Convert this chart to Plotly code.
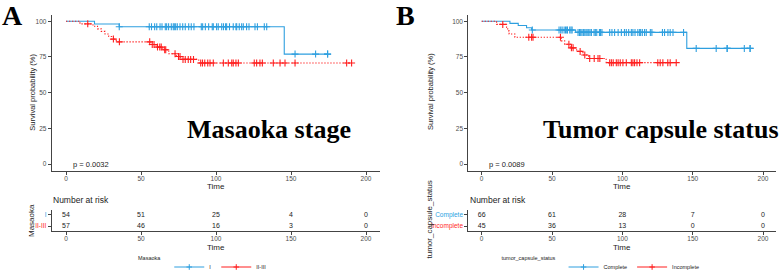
import numpy as np
import plotly.graph_objects as go

BLUE = "#2E9FDF"
RED = "#FF1F1F"
AXC = "#444444"
TICKC = "#4d4d4d"
SANS = "Liberation Sans, Arial, sans-serif"
SERIF = "Liberation Serif, Times New Roman, serif"

# ---------------- Data: panel A (Masaoka stage) ----------------
groups_A = ["I", "II-III"]
A_I_step_t = [0, 19, 35.5, 145.5]
A_I_step_s = [100, 98.1, 96.2, 77.0]
A_I_end = 174.4
A_I_censor = [35.5, 55.5, 57.0, 59.1, 60.5, 62.7, 64.0, 66.2, 67.1, 68.4, 70.2, 71.5, 72.2,
              73.1, 74.2, 76.0, 77.8, 79.5, 81.8, 83.5, 85.3, 90.2, 91.1, 92.9, 95.1, 97.5,
              98.2, 100.4, 101.5, 103.8, 105.0, 106.4, 107.1, 109.0, 111.5, 113.3, 113.8,
              115.5, 117.1, 118.2, 120.4, 122.0, 126.0, 127.6, 132.2, 133.8, 152.7, 166.4,
              174.4, 174.4]

A_II_step_t = [0, 9.3, 18, 21, 23.5, 26, 28.5, 30.5, 33.5, 56.5, 60, 64.5, 68.5, 73.5, 76.5, 88.5]
A_II_step_s = [100, 98.2, 96.5, 94.7, 92.9, 91.1, 89.3, 87.5, 85.6, 83.7, 81.9, 80.1, 77.2,
               75.3, 73.3, 70.8]
A_II_end = 190.4
A_II_censor = [14.5, 31.6, 35.6, 55.8, 57.5, 58.7, 61, 62.5, 63.5, 65.8, 66.5, 72.7, 75, 76,
               78, 79.5, 81.5, 83.1, 85, 89.8, 91, 92.5, 94.5, 96, 98.2, 104.9, 108.2, 110.5,
               111.5, 113.3, 114.9, 125.5, 127.1, 129.3, 130.9, 138.2, 142.7, 146, 152.7,
               187.1, 190.4]

risk_times = [0, 50, 100, 150, 200]
A_I_risk = [54, 51, 25, 4, 0]
A_II_risk = [57, 46, 16, 3, 0]
A_pval = "p = 0.0032"

# ---------------- Data: panel B (Tumor capsule status) ----------------
groups_B = ["Complete", "Incomplete"]
B_C_step_t = [0, 20.1, 26, 31.9, 35.5, 66.8, 145.8]
B_C_step_s = [100, 98.5, 97.0, 95.5, 93.9, 92.2, 81.0]
B_C_end = 190.8
B_C_censor = [36, 55, 56.2, 57.2, 58.6, 59.6, 60.5, 61, 62.6, 63.5, 64.3, 68.5, 69.5, 70.4,
              71.3, 72.3, 73.3, 74.2, 75, 76.1, 77, 78, 79.9, 80.8, 81.8, 83.7, 84.5, 85.5,
              91, 92.6, 94.5, 97, 99.3, 101.5, 102.8, 104.5, 106.4, 107.5, 109, 111, 112.3,
              113, 114.2, 115.8, 117, 119.9, 121, 128.5, 130, 132.4, 134, 136, 143.5,
              152.5, 166.7, 174.5, 174.5, 186.7, 190.8, 190.8]

B_I_step_t = [0, 10.6, 17.7, 18.5, 19.5, 23.6, 56.5, 59, 63.5, 67.5, 72, 76, 88.5]
B_I_step_s = [100, 97.8, 95.6, 93.3, 91.1, 88.8, 86.3, 83.9, 81.4, 78.9, 76.4, 73.9, 71.0]
B_I_end = 138.3
B_I_censor = [15, 33.5, 35.5, 36.5, 56, 62, 63.8, 65, 70, 73.3, 76.8, 80, 82.7, 84, 91, 92.2,
              93.5, 95.7, 97, 98.5, 100.4, 102.8, 106.4, 107.5, 108.7, 110.4, 112.3, 125.2,
              126.9, 128.8, 132.3, 134, 138.3]

B_C_risk = [66, 61, 28, 7, 0]
B_I_risk = [45, 36, 13, 0, 0]
B_pval = "p = 0.0089"

x_ticks = [0, 50, 100, 150, 200]
y_ticks = [0, 25, 50, 75, 100]

W, H = 780, 272


def px_x(p):
    return p / W


def px_y(p):
    return 1 - p / H


def level_at(step_t, step_s, times):
    idx = np.searchsorted(np.array(step_t), np.array(times), side="right") - 1
    return list(np.array(step_s)[idx])


fig = go.Figure()


def add_group(step_t, step_s, end, censor, color, dash, xa, ya, name, legend):
    fig.add_trace(go.Scatter(
        x=list(step_t) + [end], y=list(step_s) + [step_s[-1]],
        mode="lines", line=dict(color=color, width=1.1, dash=dash, shape="hv"),
        xaxis=xa, yaxis=ya, showlegend=False, hoverinfo="skip"))
    fig.add_trace(go.Scatter(
        x=censor, y=level_at(step_t, step_s, censor), mode="markers",
        marker=dict(symbol="cross-thin", size=5, line=dict(width=1.1, color=color), color=color),
        xaxis=xa, yaxis=ya, showlegend=False, hoverinfo="skip"))
    # legend key
    fig.add_trace(go.Scatter(
        x=[None], y=[None], mode="lines+markers", name=name,
        line=dict(color=color, width=1, dash="solid"),
        marker=dict(symbol="cross-thin", size=4, line=dict(width=1, color=color), color=color),
        xaxis=xa, yaxis=ya, legend=legend, showlegend=True))


DOT = "1.3px,1.7px"
add_group(A_I_step_t, A_I_step_s, A_I_end, A_I_censor, BLUE, "solid", "x", "y", groups_A[0], "legend")
add_group(A_II_step_t, A_II_step_s, A_II_end, A_II_censor, RED, DOT, "x", "y", groups_A[1], "legend")
add_group(B_C_step_t, B_C_step_s, B_C_end, B_C_censor, BLUE, "solid", "x3", "y3", groups_B[0], "legend2")
add_group(B_I_step_t, B_I_step_s, B_I_end, B_I_censor, RED, DOT, "x3", "y3", groups_B[1], "legend2")


def add_risk(vals, row, xa, ya):
    fig.add_trace(go.Scatter(
        x=risk_times, y=[row] * len(risk_times), mode="text",
        text=[str(v) for v in vals], textposition="middle center",
        textfont=dict(size=7, color="#222222", family=SANS),
        xaxis=xa, yaxis=ya, showlegend=False, hoverinfo="skip"))


add_risk(A_I_risk, 2, "x2", "y2")
add_risk(A_II_risk, 1, "x2", "y2")
add_risk(B_C_risk, 2, "x4", "y4")
add_risk(B_I_risk, 1, "x4", "y4")

XR = [-9.5, 209.5]
YR = [-4.9, 104.4]
RR = [0.55, 2.45]
A_dom = [px_x(51.75), px_x(380.25)]
B_dom = [px_x(468.3), px_x(776.4)]
KM_dom = [px_y(171), px_y(15)]
RK_dom = [px_y(231), px_y(210)]

common = dict(showline=True, linecolor=AXC, linewidth=1, ticks="outside", ticklen=3,
              tickcolor=AXC, tickwidth=1, showgrid=False, zeroline=False,
              tickfont=dict(size=6.5, color=TICKC, family=SANS), fixedrange=True)


def xaxis(dom, anchor):
    return dict(domain=dom, range=XR, anchor=anchor, tickvals=x_ticks,
                ticklabelstandoff=-2, **common)


def yaxis_km(anchor):
    return dict(domain=KM_dom, range=YR, anchor=anchor, tickvals=y_ticks, **common)


def yaxis_rk(anchor, labels):
    txt = ["<span style='color:%s'>%s</span>" % (RED, labels[1]),
           "<span style='color:%s'>%s</span>" % (BLUE, labels[0])]
    c = dict(common)
    c["tickfont"] = dict(size=6.5, color=TICKC, family=SANS)
    return dict(domain=RK_dom, range=RR, anchor=anchor, tickvals=[1, 2], ticktext=txt, **c)


fig.update_layout(
    width=W, height=H, margin=dict(l=0, r=0, t=0, b=0, autoexpand=False),
    paper_bgcolor="white", plot_bgcolor="white",
    font=dict(family=SANS, color="#222222"),
    xaxis=xaxis(A_dom, "y"), yaxis=yaxis_km("x"),
    xaxis2=xaxis(A_dom, "y2"), yaxis2=yaxis_rk("x2", groups_A),
    xaxis3=xaxis(B_dom, "y3"), yaxis3=yaxis_km("x3"),
    xaxis4=xaxis(B_dom, "y4"), yaxis4=yaxis_rk("x4", groups_B),
    legend=dict(orientation="h", x=px_x(204), xanchor="center", y=px_y(267), yanchor="middle",
                font=dict(size=5.5, color="#222222", family=SANS),
                title=dict(text="Masaoka", side="left", font=dict(size=5.5)),
                itemwidth=30, bgcolor="rgba(0,0,0,0)"),
    legend2=dict(orientation="h", x=px_x(602), xanchor="center", y=px_y(267), yanchor="middle",
                 font=dict(size=5.5, color="#222222", family=SANS),
                 title=dict(text="tumor_capsule_status", side="left", font=dict(size=5.5)),
                 itemwidth=30, bgcolor="rgba(0,0,0,0)"),
    showlegend=True,
)

ann = []


def a(**kw):
    base = dict(showarrow=False, xref="paper", yref="paper")
    base.update(kw)
    ann.append(base)


# panel letters
a(text="<b>A</b>", x=px_x(0), y=px_y(15), xanchor="left", yanchor="middle",
  font=dict(family=SERIF, size=28, color="black"))
a(text="<b>B</b>", x=px_x(394), y=px_y(15), xanchor="left", yanchor="middle",
  font=dict(family=SERIF, size=28, color="black"))
# big titles
a(text="<b>Masaoka stage</b>", x=px_x(268.5), y=px_y(129), xanchor="center", yanchor="middle",
  font=dict(family=SERIF, size=26, color="black"))
a(text="<b>Tumor capsule status</b>", x=px_x(661), y=px_y(129), xanchor="center", yanchor="middle",
  font=dict(family=SERIF, size=26, color="black"))
# y titles
for xp in (31.7, 430):
    a(text="Survival probability (%)", x=px_x(xp), y=px_y(92), textangle=-90,
      xanchor="center", yanchor="middle", font=dict(size=7.5, color="#222222"))
a(text="Masaoka", x=px_x(31), y=px_y(220), textangle=-90, xanchor="center", yanchor="middle",
  font=dict(size=8, color="#222222"))
a(text="tumor_capsule_status", x=px_x(428.5), y=px_y(220), textangle=-90, xanchor="center",
  yanchor="middle", font=dict(size=8, color="#222222"))
# Time labels
for xr in ("x", "x3"):
    a(text="Time", xref=xr, x=100, y=px_y(186), xanchor="center", yanchor="middle",
      font=dict(size=8, color="#222222"))
for xr in ("x2", "x4"):
    a(text="Time", xref=xr, x=100, y=px_y(247), xanchor="center", yanchor="middle",
      font=dict(size=8, color="#222222"))
# Number at risk
a(text="Number at risk", x=px_x(50.5), y=px_y(200), xanchor="left", yanchor="middle",
  font=dict(size=8.5, color="#222222"))
a(text="Number at risk", x=px_x(467.5), y=px_y(200), xanchor="left", yanchor="middle",
  font=dict(size=8.5, color="#222222"))
# p-values
a(text=A_pval, xref="x", yref="y", x=3.5, y=0, xanchor="left", yanchor="middle",
  font=dict(size=7.5, color="#222222"))
a(text=B_pval, xref="x3", yref="y3", x=3.5, y=0, xanchor="left", yanchor="middle",
  font=dict(size=7.5, color="#222222"))

fig.update_layout(annotations=ann)
fig.write_html("out.html", config={"displayModeBar": False},
               post_script="document.body.style.margin='0';document.body.style.padding='0';")
